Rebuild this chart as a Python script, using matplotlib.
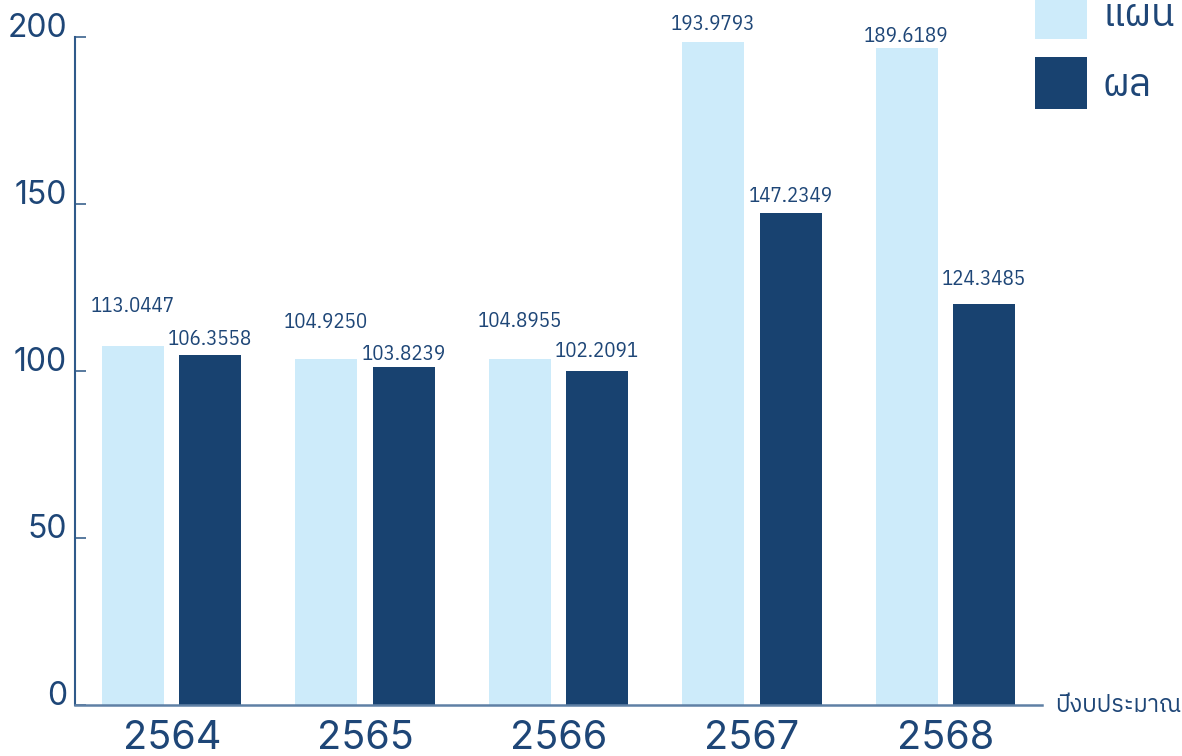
import matplotlib
matplotlib.use("Agg")
import matplotlib.pyplot as plt
import numpy as np

years = ['2564', '2565', '2566', '2567', '2568']
# bar heights as drawn in the reference
plan = [107.5, 103.6, 103.6, 198.5, 196.7]
result = [104.8, 101.2, 100.1, 147.4, 120.1]
# value labels as printed
plan_labels = ['113.0447', '104.9250', '104.8955', '193.9793', '189.6189']
result_labels = ['106.3558', '103.8239', '102.2091', '147.2349', '124.3485']
# gap (px) between bar top and label
plan_gap = [34, 31, 32, 12, 6]
result_gap = [10, 7, 14, 11, 19]

light = '#CDEBFA'
dark = '#184270'
ink = '#1E4677'

plt.rcParams['font.family'] = ['Inter', 'IBM Plex Sans Thai']

fig = plt.figure(figsize=(11.82, 7.56), dpi=100)
ax = fig.add_axes([75/1182, 51/756, 967/1182, 668/756])

x = np.arange(len(years))
b1 = ax.bar(x - 0.2, plan, width=0.32, color=light, label='แผน')
b2 = ax.bar(x + 0.2, result, width=0.32, color=dark, label='ผล')

for xs, hs, labs, gaps in [(x - 0.2, plan, plan_labels, plan_gap),
                           (x + 0.2, result, result_labels, result_gap)]:
    for xi, h, s, g in zip(xs, hs, labs, gaps):
        ax.annotate(s, (xi, h), xytext=(0, g * 0.72), textcoords='offset points',
                    ha='center', va='baseline', fontsize=15,
                    family='IBM Plex Sans Condensed', color=ink)

ax.set_xlim(-0.5, 4.5)
ax.set_ylim(0, 200)
ax.set_yticks([0, 50, 100, 150, 200])
ax.set_xticks(x)
ax.set_xticklabels(years)

for s in ['top', 'right']:
    ax.spines[s].set_visible(False)
ax.spines['left'].set_color('#2F5A8A')
ax.spines['left'].set_linewidth(1.5)
ax.spines['bottom'].set_color('#5F80A5')
ax.spines['bottom'].set_linewidth(1.8)

ax.tick_params(axis='y', direction='in', length=8, width=1.3, color='#4A6E96',
               labelsize=23, labelcolor=ink, pad=5.8)
ax.tick_params(axis='x', length=0, labelsize=28.5, labelcolor=ink, pad=11)
plt.setp(ax.get_yticklabels(), va='baseline')

ax.annotate('ปีงบประมาณ', xy=(1, 0), xycoords='axes fraction', xytext=(9.4, 0),
            textcoords='offset points', ha='left', va='center', fontsize=17,
            family='IBM Plex Sans Thai', color=ink)

fig.legend(handles=[b1, b2], loc='upper left',
           bbox_to_anchor=(1035/1182, 1 + 13/756), frameon=False,
           borderpad=0, borderaxespad=0, prop={'family': 'IBM Plex Sans Thai', 'size': 28},
           handlelength=1.34, handleheight=1.68, labelspacing=0.46,
           handletextpad=0.39, labelcolor=ink)

fig.savefig("out.png", dpi=100)
